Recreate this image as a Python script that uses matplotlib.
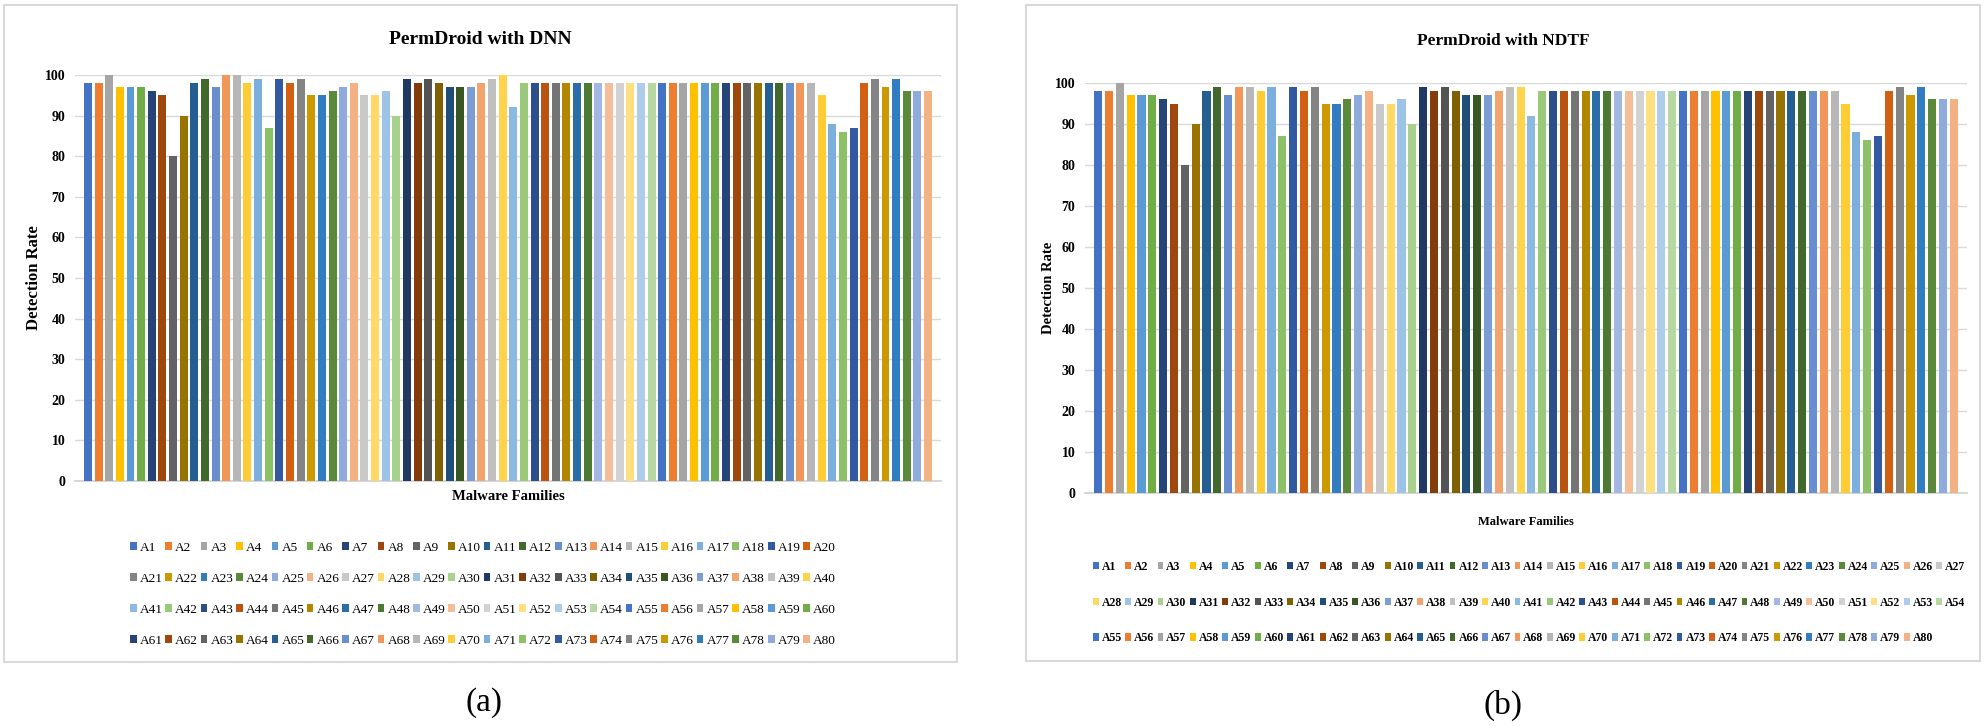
import colorsys
import matplotlib
matplotlib.use("Agg")
import matplotlib.pyplot as plt
from matplotlib.colors import to_rgb
from matplotlib.patches import Rectangle

# ---------------- data ----------------
families = [f"A{i}" for i in range(1, 81)]

dnn_rate = [98, 98, 100, 97, 97, 97, 96, 95, 80, 90,
            98, 99, 97, 100, 100, 98, 99, 87, 99, 98,
            99, 95, 95, 96, 97, 98, 95, 95, 96, 90,
            99, 98, 99, 98, 97, 97, 97, 98, 99, 100,
            92, 98, 98, 98, 98, 98, 98, 98, 98, 98,
            98, 98, 98, 98, 98, 98, 98, 98, 98, 98,
            98, 98, 98, 98, 98, 98, 98, 98, 98, 95,
            88, 86, 87, 98, 99, 97, 99, 96, 96, 96]

ndtf_rate = [98, 98, 100, 97, 97, 97, 96, 95, 80, 90,
             98, 99, 97, 99, 99, 98, 99, 87, 99, 98,
             99, 95, 95, 96, 97, 98, 95, 95, 96, 90,
             99, 98, 99, 98, 97, 97, 97, 98, 99, 99,
             92, 98, 98, 98, 98, 98, 98, 98, 98, 98,
             98, 98, 98, 98, 98, 98, 98, 98, 98, 98,
             98, 98, 98, 98, 98, 98, 98, 98, 98, 95,
             88, 86, 87, 98, 99, 97, 99, 96, 96, 96]

y_ticks = [0, 10, 20, 30, 40, 50, 60, 70, 80, 90, 100]

# ---------------- style ----------------
plt.rcParams['font.family'] = ['Liberation Serif', 'DejaVu Serif']

accents = ['#4472C4', '#ED7D31', '#A5A5A5', '#FFC000', '#5B9BD5', '#70AD47']
variants = [(1, 0), (0.6, 0), (0.8, 0.2), (0.8, 0), (0.6, 0.4),
            (0.5, 0), (0.7, 0.3), (0.7, 0), (0.5, 0.5)]


def shade(hexc, mod, off):
    r, g, b = to_rgb(hexc)
    h, l, s = colorsys.rgb_to_hls(r, g, b)
    l = min(1.0, l * mod + off)
    return colorsys.hls_to_rgb(h, l, s)


palette = [shade(a, m, o) for (m, o) in variants for a in accents]
colors = [palette[i % len(palette)] for i in range(len(families))]

W, H = 1984, 726
fig = plt.figure(figsize=(W / 100, H / 100), dpi=100)


def fx(px):
    return px / W


def fy(py):
    return 1 - py / H


def panel(box, values, title, title_y, tfs, tick_fs, lab_fs, ylab_x,
          xlab_y, xlab_fs, leg_anchor, ncol, leg_fs, leg_colsp, leg_lsp,
          leg_bold, border, sub_label, sub_pos):
    left, top, right, bottom = box
    ax = fig.add_axes([fx(left), fy(bottom), fx(right - left), (bottom - top) / H])
    x = list(range(len(values)))
    bars = ax.bar(x, values, width=0.75, color=colors, zorder=3)
    ax.set_xlim(-1.22, len(values) - 1 + 1.22)
    ax.set_ylim(0, 100)
    ax.set_yticks(y_ticks)
    ax.set_xticks([])
    ax.grid(axis='y', color='#D9D9D9', linewidth=1.0, zorder=0)
    ax.set_axisbelow(True)
    for s in ['top', 'left', 'right']:
        ax.spines[s].set_visible(False)
    ax.spines['bottom'].set_color('#D0D0D0')
    ax.spines['bottom'].set_linewidth(1.2)
    ax.tick_params(axis='y', length=0, pad=7, labelsize=tick_fs)
    for t in ax.get_yticklabels():
        t.set_fontweight('bold')
    ax.set_ylabel('Detection Rate', fontsize=lab_fs, fontweight='bold')
    ax.yaxis.set_label_coords((ylab_x - left) / (right - left), 0.5)
    cx = (left + right) / 2
    fig.text(fx(cx), fy(xlab_y), 'Malware Families', ha='center', va='center',
             fontsize=xlab_fs, fontweight='bold')
    bx0, by0, bx1, by1 = border
    fig.text(fx((bx0 + bx1) / 2), fy(title_y), title, ha='center', va='center',
             fontsize=tfs, fontweight='bold')
    fig.patches.append(Rectangle((fx(bx0), fy(by1)), fx(bx1 - bx0), (by1 - by0) / H,
                                 transform=fig.transFigure, fill=False,
                                 edgecolor='#D9D9D9', linewidth=1.5))
    # legend, row-major order
    n = len(values)
    nrows = -(-n // ncol)
    order = []
    for c in range(ncol):
        for r in range(nrows):
            i = r * ncol + c
            if i < n:
                order.append(i)
    handles = [bars[i] for i in order]
    labels = [families[i] for i in order]
    fig.legend(handles, labels, loc='upper center',
               bbox_to_anchor=(fx(leg_anchor[0]), fy(leg_anchor[1])),
               ncol=ncol, frameon=False,
               handlelength=0.5, handleheight=0.55, handletextpad=0.25,
               columnspacing=leg_colsp, labelspacing=leg_lsp,
               borderpad=0, borderaxespad=0,
               prop={'size': leg_fs, 'weight': 'bold' if leg_bold else 'normal'})
    fig.text(fx(sub_pos[0]), fy(sub_pos[1]), sub_label, ha='center', va='center',
             fontsize=24)
    return ax


panel(box=(75, 75, 941, 481), values=dnn_rate, title='PermDroid with DNN',
      title_y=39, tfs=14, tick_fs=10, lab_fs=12, ylab_x=42,
      xlab_y=497, xlab_fs=10.5, leg_anchor=(483, 542), ncol=20, leg_fs=9.5,
      leg_colsp=0.2, leg_lsp=1.43, leg_bold=False,
      border=(4, 5, 957, 662), sub_label='(a)', sub_pos=(484, 703))

panel(box=(1085, 83, 1967, 493), values=ndtf_rate, title='PermDroid with NDTF',
      title_y=41, tfs=12.5, tick_fs=10, lab_fs=10.5, ylab_x=1055,
      xlab_y=522, xlab_fs=9, leg_anchor=(1529, 561), ncol=27, leg_fs=8.5,
      leg_colsp=0.28, leg_lsp=2.0, leg_bold=True,
      border=(1026, 5, 1980, 661), sub_label='(b)', sub_pos=(1503, 705))

fig.savefig('out.png', dpi=100, facecolor='white')
